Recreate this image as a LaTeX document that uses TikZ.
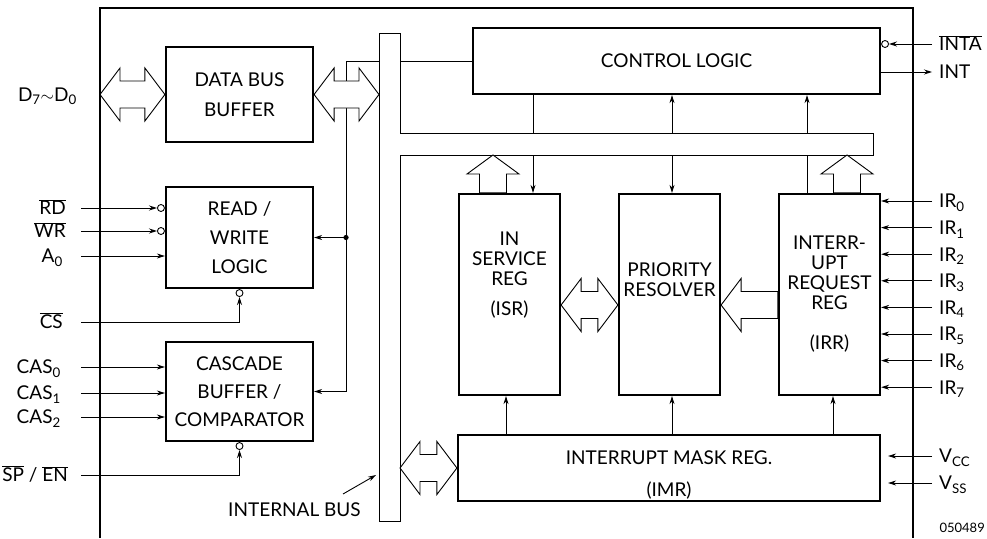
\documentclass[tikz,border=0pt]{standalone}
\usepackage{fontspec}
\setmainfont{Lato}
\usetikzlibrary{arrows.meta, positioning, calc}
\newcommand{\blkfont}{\fontsize{19}{20}\selectfont}
\newcommand{\ovl}[1]{$\overline{\mbox{#1}}$}
% hollow bus arrows
\newcommand{\dbusarrow}[2]{%
  \draw[busarrow] (#1) -- ++(20,-26.5) -- ++(0,13) -- ($(#2)+(-20,-13.5)$)
    -- ++(0,-13) -- (#2) -- ++(-20,26.5) -- ++(0,-13)
    -- ($(#1)+(20,13.5)$) -- ++(0,13) -- cycle;}
\newcommand{\lbusarrow}[2]{%
  \draw[busarrow] (#1) -- ++(20,-26.5) -- ++(0,13) -- ($(#2)+(0,-13.5)$)
    -- ($(#2)+(0,13.5)$) -- ($(#1)+(20,13.5)$) -- ++(0,13) -- cycle;}
\newcommand{\ubusarrow}[2]{%
  \draw[busarrow] (#1) -- ++(-26,19) -- ++(12.5,0) -- ($(#2)+(-13.5,0)$)
    -- ($(#2)+(13.5,0)$) -- ($(#1)+(13.5,19)$) -- ++(12.5,0) -- cycle;}

\begin{document}
\begin{tikzpicture}[x=1pt, y=-1pt,
    blk/.style={draw, line width=2.2pt, align=center, inner sep=0pt, font=\blkfont},
    txt/.style={align=center, inner sep=0pt, font=\blkfont},
    pinl/.style={inner sep=0pt, font=\blkfont, text height=13.6pt, text depth=0pt},
    sig/.style={line width=0.9pt, -{Stealth[length=8pt, width=5pt]}},
    wire/.style={line width=0.9pt},
    bubble/.style={circle, draw, line width=0.9pt, fill=white, inner sep=0pt, minimum size=7pt},
    busarrow/.style={draw, line width=0.9pt, fill=white, line join=miter},
    frame/.style={line width=2pt},
  ]
  \useasboundingbox (0,0) rectangle (987,538);

  % frame
  \draw[frame] (100,538) -- (100,7.5) -- (912.5,7.5) -- (912.5,538);

  % internal bus
  \draw[wire] (379,33) -- (400,33) -- (400,133) -- (873,133) -- (873,155)
    -- (400,155) -- (400,521) -- (379,521) -- cycle;
  \coordinate (busW) at (379,0);
  \coordinate (busE) at (400,0);
  \coordinate (armN) at (0,133);
  \coordinate (armS) at (0,155);

  % blocks
  \node[blk, minimum width=147pt, minimum height=95pt] (dbb) at (239.5,94.5)
    {DATA BUS\\[10pt]BUFFER};
  \node[blk, minimum width=147pt, minimum height=101pt] (rwl) at (239.5,237.5)
    {READ /\\[9pt]WRITE\\[9pt]LOGIC};
  \node[blk, minimum width=147pt, minimum height=99pt] (cas) at (239.5,391.5)
    {CASCADE\\[8pt]BUFFER /\\[8pt]COMPARATOR};
  \node[blk, minimum width=407pt, minimum height=66pt] (ctl) at (676.5,61)
    {CONTROL LOGIC};
  \node[blk, minimum width=101pt, minimum height=201pt] (isr) at (509.5,294.5) {};
  \node[txt] (isrt) at (509.5,275) {IN\\SERVICE\\REG\\[10pt](ISR)};
  \node[blk, minimum width=101pt, minimum height=201pt] (pr) at (669.5,294.5) {};
  \node[txt] (prt) at (669.5,280) {PRIORITY\\RESOLVER};
  \node[blk, minimum width=101pt, minimum height=201pt] (irr) at (829.5,294.5)
    {INTERR-\\UPT\\REQUEST\\REG\\[20pt](IRR)};
  \node[blk, minimum width=422pt, minimum height=66pt] (imr) at (669,468) {};
  \node[txt] (imrt) at (669,475) {INTERRUPT MASK REG.\\[12pt](IMR)};

  % data bus taps
  \coordinate (tap) at (346,0);
  \draw[sig] (ctl.west -| busW) -| (tap |- cas.east) -- (cas.east);
  \draw[wire] (ctl.west -| busE) -- (ctl.west);
  \fill (tap |- rwl.east) circle (2.6pt);
  \draw[sig] (tap |- rwl.east) -- (rwl.east);

  % hollow bus arrows
  \coordinate (dpin) at (100,94.5);
  \coordinate (hx) at (0,305);
  \coordinate (ux1) at (493,0);
  \coordinate (ux2) at (847,0);
  \dbusarrow{dpin}{dbb.west}
  \dbusarrow{dbb.east}{dbb.east -| busW}
  \dbusarrow{isr.east |- hx}{pr.west |- hx}
  \lbusarrow{pr.east |- hx}{irr.west |- hx}
  \dbusarrow{imr.west -| busE}{imr.west}
  \ubusarrow{armS -| ux1}{isr.north -| ux1}
  \ubusarrow{armS -| ux2}{irr.north -| ux2}

  % control lines
  \coordinate (c1) at (533,0);
  \coordinate (c2) at (672,0);
  \coordinate (c3) at (807,0);
  \coordinate (m1) at (506,0);
  \coordinate (m3) at (833,0);
  \draw[wire] (ctl.south -| c1) -- (armN -| c1);
  \draw[sig] (armS -| c1) -- (isr.north -| c1);
  \draw[sig] (armN -| c2) -- (ctl.south -| c2);
  \draw[sig] (armS -| c2) -- (pr.north -| c2);
  \draw[sig] (armN -| c3) -- (ctl.south -| c3);
  \draw[wire] (irr.north -| c3) -- (armS -| c3);
  \draw[sig] (imr.north -| m1) -- (isr.south -| m1);
  \draw[sig] (imr.north -| c2) -- (pr.south -| c2);
  \draw[sig] (imr.north -| m3) -- (irr.south -| m3);

  % left pins
  \coordinate (pinx) at (81,0);
  \node[pinl, anchor=east] (dbus) at (77,94.5) {D\textsubscript{7}$\sim$D\textsubscript{0}};
  \node[pinl, anchor=east] (rd) at (66,208) {\ovl{RD}};
  \node[pinl, anchor=east] (wr) at (66,231) {\ovl{WR}};
  \node[pinl, anchor=east] (a0) at (63,256) {A\textsubscript{0}};
  \node[pinl, anchor=east] (cs) at (63,322) {\ovl{CS}};
  \node[pinl, anchor=east] (cas0) at (61,367) {CAS\textsubscript{0}};
  \node[pinl, anchor=east] (cas1) at (61,393) {CAS\textsubscript{1}};
  \node[pinl, anchor=east] (cas2) at (61,417) {CAS\textsubscript{2}};
  \node[pinl, anchor=east] (spen) at (68,475) {\ovl{SP} / \ovl{EN}};

  \node[bubble, anchor=east] (rdb) at (rwl.west |- rd) {};
  \node[bubble, anchor=east] (wrb) at (rwl.west |- wr) {};
  \node[bubble, anchor=north] (csb) at (rwl.south) {};
  \node[bubble, anchor=north] (speb) at (cas.south) {};
  \draw[sig] (rd -| pinx) -- (rdb.west);
  \draw[sig] (wr -| pinx) -- (wrb.west);
  \draw[sig] (a0 -| pinx) -- (a0 -| rwl.west);
  \draw[sig] (cs -| pinx) -| (csb.south);
  \foreach \k in {0,1,2}
    \draw[sig] (cas\k -| pinx) -- (cas\k -| cas.west);
  \draw[sig] (spen -| pinx) -| (speb.south);

  % right pins
  \coordinate (pinr) at (932,0);
  \node[pinl, anchor=west] (inta) at (939,44) {\ovl{INTA}};
  \node[pinl, anchor=west] (int) at (939,72) {INT};
  \node[bubble, anchor=west] (intab) at (ctl.east |- inta) {};
  \draw[sig] (inta -| pinr) -- (intab.east);
  \draw[sig] (ctl.east |- int) -- (int -| pinr);
  \foreach \i in {0,...,7} {
    \node[pinl, anchor=west] (ir\i) at (939,201+26.6*\i) {IR\textsubscript{\i}};
    \draw[sig] (ir\i -| pinr) -- (ir\i -| irr.east);
  }
  \node[pinl, anchor=west] (vcc) at (939,456) {V\textsubscript{CC}};
  \node[pinl, anchor=west] (vss) at (939,483) {V\textsubscript{SS}};
  \draw[sig, shorten >=7pt] (vcc -| pinr) -- (vcc -| imr.east);
  \draw[sig, shorten >=7pt] (vss -| pinr) -- (vss -| imr.east);

  % internal bus label
  \node[pinl, anchor=west] (ibl) at (228,510) {INTERNAL BUS};
  \coordinate (ibtail) at (343,494);
  \coordinate (ibtip) at (376,475);
  \draw[sig] (ibtail) -- (ibtip);

  \node[font=\fontsize{13}{15}\selectfont, inner sep=0pt, anchor=east] (docno) at (985,528) {050489};
\end{tikzpicture}
\end{document}
